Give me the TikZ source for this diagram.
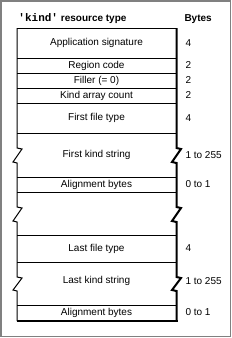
\documentclass[tikz,border=0pt]{standalone}
\usepackage{fontspec}
\setmainfont{Liberation Sans}
\setmonofont{Liberation Mono}
\usepackage{tikz}
\definecolor{FrameGray}{HTML}{808080}

\begin{document}
\begin{tikzpicture}[x=1pt, y=-1pt, line width=1pt,
    every node/.style={font=\fontsize{10}{12}\selectfont, inner sep=0pt},
    field/.style={anchor=center},
    bytes/.style={anchor=west},
    head/.style={anchor=base west, font=\fontsize{10}{12}\selectfont\bfseries}]
  \useasboundingbox (0,0) rectangle (232,338);
  \draw[FrameGray,line width=1.5pt] (0.75,0.75) rectangle (230.5,336.5);
  % headings
  \node[head] (title) at (18,21.5) {{\ttfamily\fontsize{11}{12}\selectfont 'kind'} resource type};
  \node[head] (bytes) at (184,21.5) {Bytes};
  % outline of the record
  \draw (17,28) -- (176,28);
  \draw (17,28) -- (17,148) -- (22,149) -- (13,162) -- (17,163) -- (17,207) -- (22,208)
    -- (13,221) -- (17,222) -- (17,277) -- (22,278) -- (13,290) -- (17,291) -- (17,321);
  \draw[line width=2pt] (176.5,28) -- (176.5,148) -- (181,149) -- (172,162) -- (176.5,163)
    -- (176.5,207) -- (181,208) -- (172,221) -- (176.5,222) -- (176.5,277) -- (181,278)
    -- (172,290) -- (176.5,291) -- (176.5,321);
  \draw[line width=2pt] (17,320.5) -- (177.5,320.5);
  \foreach \y in {58,73,88,103,133,177,192,235,262,305}
    \draw (17,\y) -- (176,\y);
  % fields
  \node[field] (sig) at (96.5,43) {Application signature};
  \node[field] (region) at (96.5,65.5) {Region code};
  \node[field] (filler) at (96.5,80.5) {Filler (= 0)};
  \node[field] (count) at (96.5,95.5) {Kind array count};
  \node[field] (ftype1) at (96.5,118) {First file type};
  \node[field] (kstr1) at (96.5,155) {First kind string};
  \node[field] (align1) at (96.5,184.5) {Alignment bytes};
  \node[field] (ftype2) at (96.5,248.5) {Last file type};
  \node[field] (kstr2) at (96.5,281) {Last kind string};
  \node[field] (align2) at (96.5,312.5) {Alignment bytes};
  % sizes
  \node[bytes] (b-sig) at (185,43) {4};
  \node[bytes] (b-region) at (185,65.5) {2};
  \node[bytes] (b-filler) at (185,80.5) {2};
  \node[bytes] (b-count) at (185,95.5) {2};
  \node[bytes] (b-ftype1) at (185,118) {4};
  \node[bytes] (b-kstr1) at (185,155) {1 to 255};
  \node[bytes] (b-align1) at (185,184.5) {0 to 1};
  \node[bytes] (b-ftype2) at (185,248.5) {4};
  \node[bytes] (b-kstr2) at (185,281) {1 to 255};
  \node[bytes] (b-align2) at (185,312.5) {0 to 1};
\end{tikzpicture}
\end{document}
